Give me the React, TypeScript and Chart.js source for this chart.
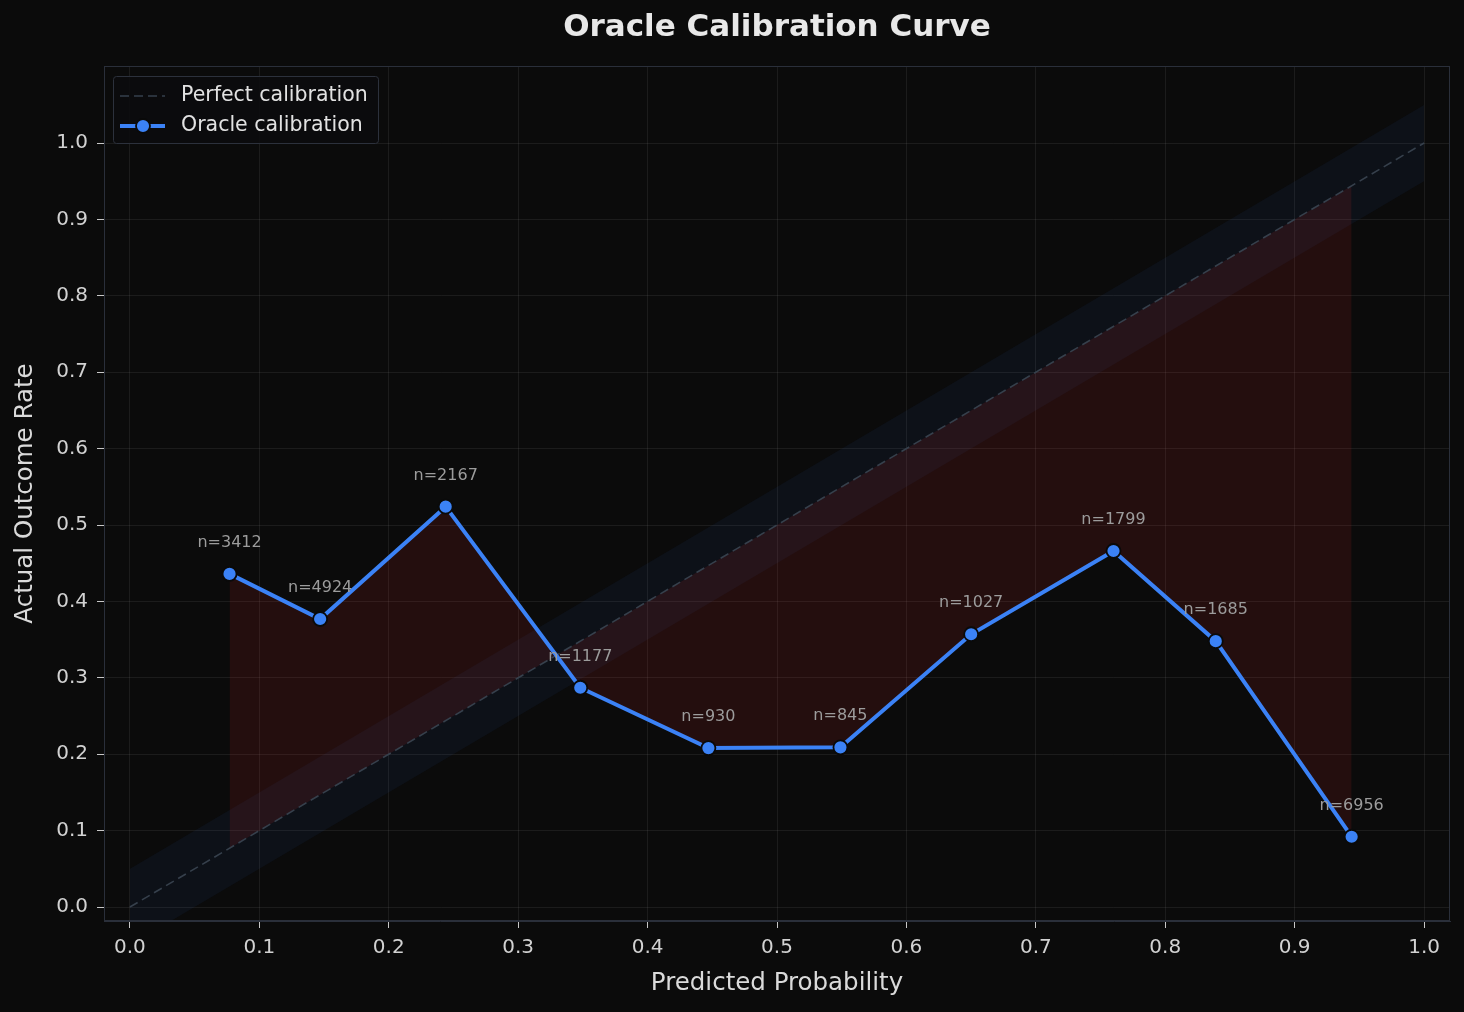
import React, { useEffect, useRef } from "react";
import { Chart, registerables } from "chart.js";

Chart.register(...registerables);

// Calibration bins: mean predicted probability, observed outcome rate, sample count
const predicted = [0.077, 0.147, 0.244, 0.348, 0.447, 0.549, 0.65, 0.76, 0.839, 0.944];
const observed = [0.436, 0.377, 0.524, 0.287, 0.208, 0.209, 0.357, 0.466, 0.348, 0.092];
const counts = [3412, 4924, 2167, 1177, 930, 845, 1027, 1799, 1685, 6956];

const axisTicks = [0, 0.1, 0.2, 0.3, 0.4, 0.5, 0.6, 0.7, 0.8, 0.9, 1.0];
const tolerance = 0.05;

const FONT = "'DejaVu Sans', 'Liberation Sans', sans-serif";
const BLUE = "#3b82f6";
const SPINE = "#2a2f3a";
const DIAG = "#36404c";

const overlayPlugin = {
  id: "calibrationOverlay",
  afterDatasetsDraw(chart: any) {
    const { ctx, chartArea, scales } = chart;
    const xs = scales.x;
    const ys = scales.y;
    ctx.save();

    // sample-count labels above each bin
    ctx.font = `16px ${FONT}`;
    ctx.fillStyle = "#9c9c9c";
    ctx.textAlign = "center";
    ctx.textBaseline = "middle";
    predicted.forEach((p, i) => {
      const px = xs.getPixelForValue(p);
      const py = ys.getPixelForValue(observed[i]);
      ctx.fillText(`n=${counts[i]}`, px, py - 31);
    });

    // frame around the plot area
    ctx.strokeStyle = SPINE;
    ctx.lineWidth = 1;
    ctx.strokeRect(
      chartArea.left + 0.5,
      chartArea.top + 0.5,
      chartArea.right - chartArea.left - 1,
      chartArea.bottom - chartArea.top - 1
    );

    // legend
    const lx = chartArea.left + 9;
    const ly = chartArea.top + 10;
    const lw = 265;
    const lh = 67;
    ctx.beginPath();
    ctx.roundRect(lx + 0.5, ly + 0.5, lw, lh, 3);
    ctx.fillStyle = "rgba(12,12,14,0.85)";
    ctx.fill();
    ctx.strokeStyle = "#2c313c";
    ctx.stroke();

    const row1 = ly + 20;
    const row2 = ly + 50;
    ctx.strokeStyle = DIAG;
    ctx.lineWidth = 1.6;
    ctx.setLineDash([9, 5]);
    ctx.beginPath();
    ctx.moveTo(lx + 7, row1);
    ctx.lineTo(lx + 52, row1);
    ctx.stroke();
    ctx.setLineDash([]);

    ctx.strokeStyle = BLUE;
    ctx.lineWidth = 4;
    ctx.beginPath();
    ctx.moveTo(lx + 7, row2);
    ctx.lineTo(lx + 52, row2);
    ctx.stroke();
    ctx.beginPath();
    ctx.arc(lx + 30, row2, 7, 0, Math.PI * 2);
    ctx.fillStyle = BLUE;
    ctx.fill();
    ctx.lineWidth = 1.8;
    ctx.strokeStyle = "#0a0a0a";
    ctx.stroke();

    ctx.font = `20.5px ${FONT}`;
    ctx.fillStyle = "#e2e2e2";
    ctx.textAlign = "left";
    ctx.textBaseline = "middle";
    ctx.fillText("Perfect calibration", lx + 68, row1);
    ctx.fillText("Oracle calibration", lx + 68, row2);

    // chart title and axis titles
    const cx = (chartArea.left + chartArea.right) / 2;
    const cy = (chartArea.top + chartArea.bottom) / 2;
    ctx.textAlign = "center";
    ctx.fillStyle = "#e8e8e8";
    ctx.font = `bold 31px ${FONT}`;
    ctx.fillText("Oracle Calibration Curve", cx, 28);

    ctx.fillStyle = "#dadada";
    ctx.font = `24.5px ${FONT}`;
    ctx.fillText("Predicted Probability", cx, 984);

    ctx.translate(26, cy);
    ctx.rotate(-Math.PI / 2);
    ctx.fillText("Actual Outcome Rate", 0, 0);
    ctx.restore();
  },
};

export default function App() {
  const canvasRef = useRef<HTMLCanvasElement | null>(null);

  useEffect(() => {
    document.body.style.margin = "0";
    document.body.style.background = "#0b0b0b";
    const canvas = canvasRef.current;
    if (!canvas) return;

    const curve = predicted.map((p, i) => ({ x: p, y: observed[i] }));
    const diagAtBins = predicted.map((p) => ({ x: p, y: p }));
    const bandUpper = [
      { x: 0, y: tolerance },
      { x: 1, y: 1 + tolerance },
    ];
    const bandLower = [
      { x: 0, y: -tolerance },
      { x: 1, y: 1 - tolerance },
    ];
    const diagonal = [
      { x: 0, y: 0 },
      { x: 1, y: 1 },
    ];
    const gapFill = "rgba(220,38,38,0.12)";
    const bandFill = "rgba(59,130,246,0.055)";

    const chart = new Chart(canvas, {
      type: "line",
      data: {
        datasets: [
          {
            label: "Oracle calibration",
            data: curve,
            borderColor: BLUE,
            borderWidth: 4,
            pointRadius: 7,
            pointBackgroundColor: BLUE,
            pointBorderColor: "#0a0a0a",
            pointBorderWidth: 1.8,
            tension: 0,
            fill: { target: 1, above: gapFill, below: gapFill },
          },
          {
            label: "diagonal at bins",
            data: diagAtBins,
            borderWidth: 0,
            borderColor: "rgba(0,0,0,0)",
            pointRadius: 0,
            fill: false,
          },
          {
            label: "band upper",
            data: bandUpper,
            borderWidth: 0,
            borderColor: "rgba(0,0,0,0)",
            pointRadius: 0,
            fill: { target: 3, above: bandFill, below: bandFill },
          },
          {
            label: "band lower",
            data: bandLower,
            borderWidth: 0,
            borderColor: "rgba(0,0,0,0)",
            pointRadius: 0,
            fill: false,
          },
          {
            label: "Perfect calibration",
            data: diagonal,
            borderColor: DIAG,
            borderWidth: 1.6,
            borderDash: [9, 5],
            pointRadius: 0,
            fill: false,
          },
        ],
      },
      options: {
        responsive: false,
        animation: false,
        devicePixelRatio: 1,
        events: [],
        layout: { padding: { top: 66, right: 14, left: 0, bottom: 0 } },
        plugins: {
          legend: { display: false },
          title: { display: false },
          tooltip: { enabled: false },
          filler: { drawTime: "beforeDatasetsDraw" },
        } as any,
        scales: {
          x: {
            type: "linear",
            min: -0.02,
            max: 1.02,
            afterBuildTicks: (s: any) => {
              s.ticks = axisTicks.map((v) => ({ value: v }));
            },
            afterFit: (s: any) => {
              s.height = 91;
            },
            ticks: {
              color: "#d2d2d2",
              font: { family: FONT, size: 20 },
              padding: 8,
              maxRotation: 0,
              autoSkip: false,
              callback: (v: any) => Number(v).toFixed(1),
            },
            grid: {
              color: "rgba(255,255,255,0.07)",
              tickColor: "#c8c8c8",
              tickLength: 7,
              lineWidth: 1,
            },
            border: { display: true, color: SPINE },
          },
          y: {
            type: "linear",
            min: -0.0183,
            max: 1.1008,
            afterBuildTicks: (s: any) => {
              s.ticks = axisTicks.map((v) => ({ value: v }));
            },
            afterFit: (s: any) => {
              s.width = 104;
            },
            ticks: {
              color: "#d2d2d2",
              font: { family: FONT, size: 20 },
              padding: 9,
              autoSkip: false,
              callback: (v: any) => Number(v).toFixed(1),
            },
            grid: {
              color: "rgba(255,255,255,0.07)",
              tickColor: "#c8c8c8",
              tickLength: 7,
              lineWidth: 1,
            },
            border: { display: true, color: SPINE },
          },
        },
      },
      plugins: [overlayPlugin],
    });

    return () => chart.destroy();
  }, []);

  return (
    <div style={{ width: 1464, height: 1012, background: "#0b0b0b" }}>
      <canvas ref={canvasRef} width={1464} height={1012} style={{ display: "block", width: 1464, height: 1012 }} />
    </div>
  );
}
